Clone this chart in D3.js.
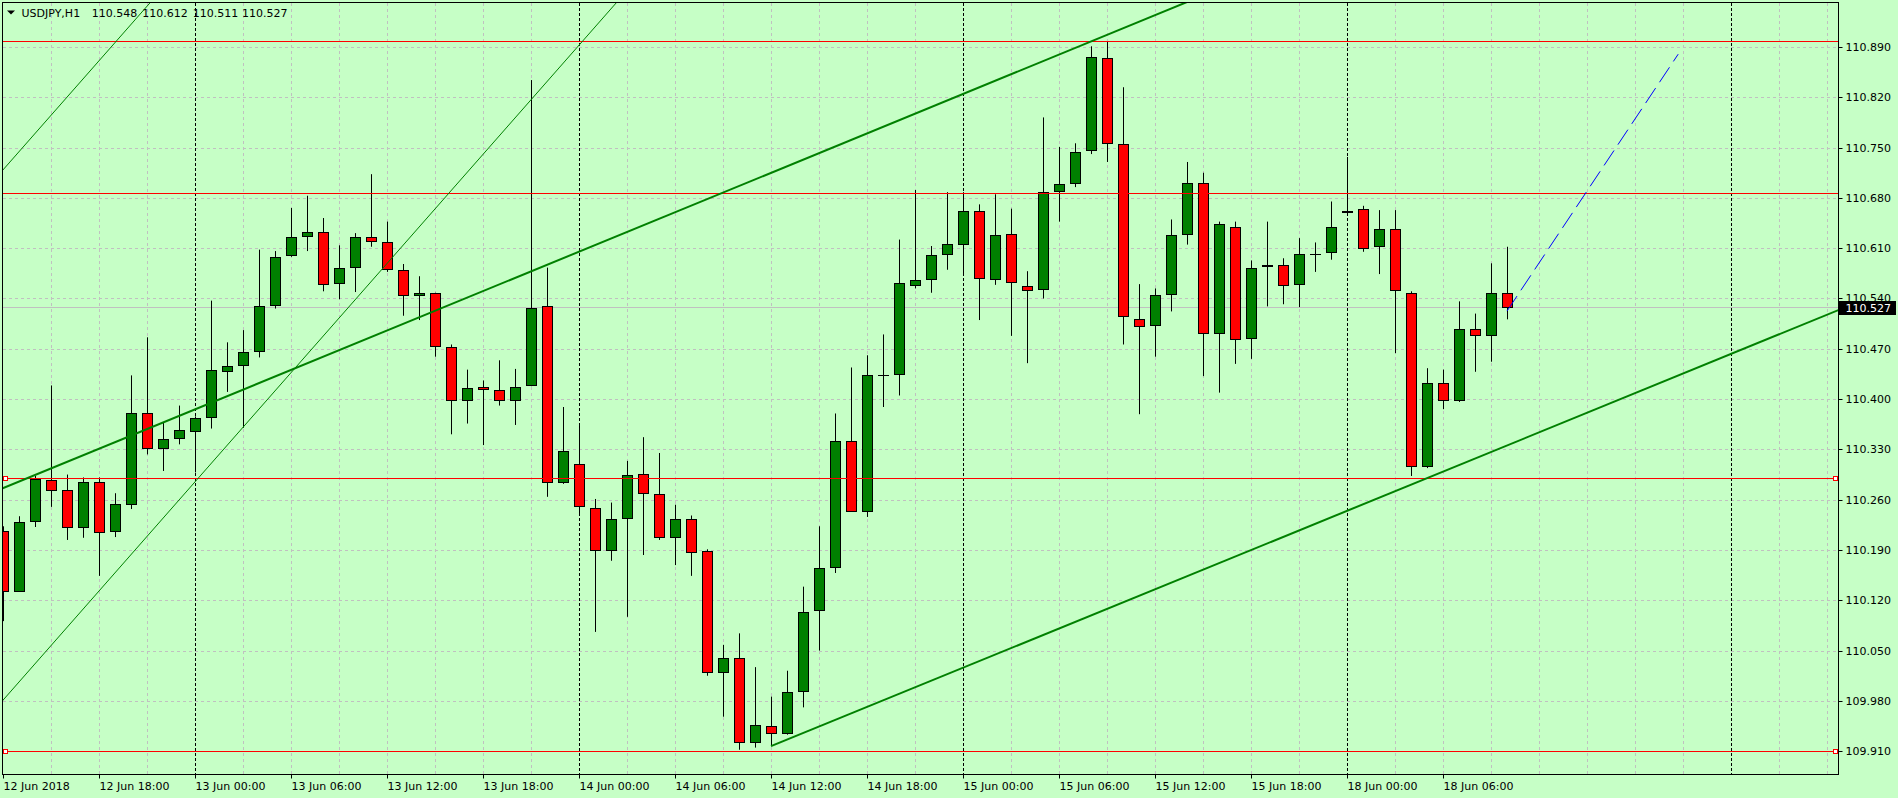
<!DOCTYPE html>
<html><head><meta charset="utf-8">
<script src="https://cdn.jsdelivr.net/npm/d3@7"></script>
<style>
html,body{margin:0;padding:0;background:#c6ffc6;overflow:hidden;}
svg{display:block;}
</style></head><body>
<svg id="chart" width="1898" height="798"></svg>
<script>
// ---------------- data ----------------
const symbolTitle = "USDJPY,H1";
const ohlcTitle = ["110.548", "110.612", "110.511", "110.527"];

// hourly bars, index 0 = 12 Jun 2018 12:00
const opens = [110.217,110.132,110.229,110.288,110.273,110.221,110.284,110.215,110.253,110.381,
  110.330,110.344,110.354,110.374,110.438,110.446,110.466,110.530,110.599,110.626,
  110.633,110.560,110.583,110.625,110.619,110.580,110.543,110.547,110.473,110.397,
  110.417,110.412,110.398,110.418,110.530,110.283,110.309,110.249,110.189,110.233,
  110.296,110.268,110.207,110.233,110.188,110.019,110.040,109.921,109.945,109.934,
  109.993,110.105,110.165,110.342,110.243,110.434,110.433,110.558,110.566,110.601,
  110.614,110.662,110.566,110.630,110.558,110.552,110.688,110.700,110.745,110.874,
  110.755,110.512,110.502,110.545,110.629,110.701,110.490,110.639,110.483,110.585,
  110.587,110.559,110.602,110.604,110.662,110.664,110.612,110.637,110.548,110.305,
  110.423,110.398,110.498,110.488,110.548];
const highs = [110.223,110.237,110.293,110.419,110.295,110.291,110.291,110.269,110.433,110.486,
  110.367,110.391,110.376,110.537,110.479,110.496,110.608,110.606,110.666,110.683,
  110.652,110.614,110.631,110.713,110.647,110.588,110.571,110.548,110.476,110.441,
  110.426,110.454,110.442,110.844,110.583,110.389,110.363,110.261,110.256,110.314,
  110.347,110.325,110.253,110.238,110.191,110.058,110.074,110.027,109.986,110.022,
  110.139,110.223,110.380,110.444,110.461,110.490,110.622,110.691,110.613,110.688,
  110.688,110.671,110.685,110.665,110.578,110.792,110.751,110.756,110.891,110.897,
  110.834,110.560,110.554,110.650,110.730,110.715,110.647,110.647,110.593,110.647,
  110.596,110.624,110.618,110.675,110.737,110.669,110.663,110.663,110.550,110.443,
  110.441,110.536,110.519,110.589,110.612];
const lows = [110.091,110.132,110.222,110.250,110.204,110.207,110.154,110.208,110.247,110.323,
  110.300,110.337,110.298,110.359,110.410,110.360,110.458,110.526,110.598,110.606,
  110.550,110.539,110.549,110.612,110.577,110.516,110.510,110.459,110.351,110.366,
  110.336,110.391,110.364,110.418,110.264,110.282,110.241,110.076,110.175,110.097,
  110.183,110.204,110.169,110.154,110.015,109.958,109.912,109.915,109.917,109.933,
  109.971,110.050,110.158,110.243,110.236,110.389,110.405,110.554,110.548,110.580,
  110.574,110.510,110.559,110.488,110.450,110.540,110.647,110.695,110.741,110.730,
  110.476,110.379,110.459,110.522,110.615,110.432,110.409,110.449,110.456,110.529,
  110.532,110.528,110.577,110.594,110.661,110.605,110.574,110.464,110.293,110.304,
  110.386,110.396,110.438,110.452,110.511];
const closes = [110.132,110.229,110.289,110.272,110.221,110.285,110.214,110.254,110.381,110.330,
  110.344,110.357,110.374,110.440,110.446,110.466,110.530,110.598,110.625,110.633,
  110.559,110.583,110.625,110.618,110.579,110.544,110.547,110.473,110.397,110.416,
  110.412,110.397,110.417,110.527,110.283,110.328,110.250,110.189,110.233,110.295,
  110.268,110.207,110.233,110.186,110.019,110.040,109.921,109.947,109.934,109.993,
  110.104,110.165,110.342,110.243,110.433,110.434,110.562,110.566,110.601,110.616,
  110.662,110.567,110.628,110.561,110.551,110.688,110.700,110.744,110.876,110.755,
  110.514,110.501,110.545,110.629,110.701,110.490,110.644,110.482,110.582,110.587,
  110.558,110.602,110.602,110.640,110.661,110.609,110.637,110.550,110.305,110.423,
  110.398,110.498,110.488,110.548,110.527];

const priceTicks = [110.890,110.820,110.750,110.680,110.610,110.540,110.470,110.400,
  110.330,110.260,110.190,110.120,110.050,109.980,109.910];
const timeTickBars = [0,6,12,18,24,30,36,42,48,54,60,66,72,78,84,90];
const timeLabels = ["12 Jun 2018","12 Jun 18:00","13 Jun 00:00","13 Jun 06:00","13 Jun 12:00",
  "13 Jun 18:00","14 Jun 00:00","14 Jun 06:00","14 Jun 12:00","14 Jun 18:00","15 Jun 00:00",
  "15 Jun 06:00","15 Jun 12:00","15 Jun 18:00","18 Jun 00:00","18 Jun 06:00"];
const separatorBars = [12,36,60,84,108];
const levelPrices = [110.8975,110.686,110.289,109.910];
const levelMarked = [false,false,true,true];
const bidPrice = 110.527;
// trend lines: [bar, price] anchor pairs
const channelUpper = [[0,110.276],[70,110.916]];
const channelLower = [[48,109.917],[110,110.481]];
const thinLineA = [[0,110.719],[10,110.972]];
const thinLineB = [[0,109.981],[36,110.8925]];
const projection = [[94,110.5225],[104.7,110.880]];

// ---------------- drawing ----------------
const svg = d3.select('#chart');
const FONT = "DejaVu Sans";
const plotL = 3, plotR = 1838, plotT = 3, plotB = 774;

const x = d3.scaleLinear().domain([0,100]).range([3,1603]);
const y = d3.scaleLinear().domain([109.910,110.890]).range([751.2,47]);
const yPx = p => Math.round(y(p)) + 0.5;
const xPx = b => Math.round(x(b)) + 0.5;

svg.append('defs').append('clipPath').attr('id','plotClip')
  .append('rect').attr('x',plotL).attr('y',plotT).attr('width',plotR-plotL).attr('height',plotB-plotT);

const grid = svg.append('g').attr('clip-path','url(#plotClip)');
grid.selectAll('line.h').data(priceTicks).join('line').attr('class','h')
  .attr('x1',plotL).attr('x2',plotR).attr('y1',d=>yPx(d)).attr('y2',d=>yPx(d))
  .attr('stroke','#c0c0c0').attr('stroke-dasharray','3,3');
const vGrid = d3.range(3,117,3).filter(b=>!separatorBars.includes(b));
grid.selectAll('line.v').data(vGrid).join('line').attr('class','v')
  .attr('x1',d=>xPx(d)).attr('x2',d=>xPx(d)).attr('y1',plotT).attr('y2',plotB)
  .attr('stroke','#c0c0c0').attr('stroke-dasharray','3,3');
grid.selectAll('line.sep').data(separatorBars).join('line').attr('class','sep')
  .attr('x1',d=>xPx(d)).attr('x2',d=>xPx(d)).attr('y1',plotT).attr('y2',plotB)
  .attr('stroke','#000').attr('stroke-dasharray','3,2');
// bid line
grid.append('line').attr('x1',plotL).attr('x2',plotR)
  .attr('y1',Math.floor(y(bidPrice))+0.5).attr('y2',Math.floor(y(bidPrice))+0.5)
  .attr('stroke','#c0c0c0');

// candles
const bars = opens.map((o,i)=>({i,o,h:highs[i],l:lows[i],c:closes[i]}));
const gC = svg.append('g').attr('clip-path','url(#plotClip)');
gC.selectAll('line.wick').data(bars).join('line').attr('class','wick')
  .attr('x1',d=>xPx(d.i)).attr('x2',d=>xPx(d.i))
  .attr('y1',d=>y(d.h)).attr('y2',d=>y(d.l)).attr('stroke','#000');
gC.selectAll('line.doji').data(bars.filter(d=>d.o===d.c)).join('line').attr('class','doji')
  .attr('x1',d=>xPx(d.i)-5.5).attr('x2',d=>xPx(d.i)+5.5)
  .attr('y1',d=>yPx(d.o)).attr('y2',d=>yPx(d.o)).attr('stroke','#000');
gC.selectAll('rect.body').data(bars.filter(d=>d.o!==d.c)).join('rect').attr('class','body')
  .attr('x',d=>xPx(d.i)-5).attr('width',10)
  .attr('y',d=>Math.round(y(Math.max(d.o,d.c)))+0.5)
  .attr('height',d=>Math.max(1,Math.round(y(Math.min(d.o,d.c)))-Math.round(y(Math.max(d.o,d.c)))-1))
  .attr('fill',d=>d.c>d.o?'#008000':'#ff0000').attr('stroke','#000');

// objects
const gO = svg.append('g').attr('clip-path','url(#plotClip)');
const extend = (pts,b0,b1)=>{
  const [[xa,ya],[xb,yb]] = pts; const k=(yb-ya)/(xb-xa);
  return [[b0,ya+k*(b0-xa)],[b1,ya+k*(b1-xa)]];
};
const line = d3.line().x(d=>x(d[0])).y(d=>y(d[1]));
gO.selectAll('line.lvl').data(levelPrices).join('line').attr('class','lvl')
  .attr('x1',plotL).attr('x2',plotR).attr('y1',d=>Math.floor(y(d))+0.5).attr('y2',d=>Math.floor(y(d))+0.5)
  .attr('stroke','#ff0000');
gO.append('path').attr('d',line(extend(thinLineA,-20,130))).attr('stroke','#008000').attr('fill','none').attr('stroke-width',1);
gO.append('path').attr('d',line(extend(thinLineB,-20,130))).attr('stroke','#008000').attr('fill','none').attr('stroke-width',1);
gO.append('path').attr('d',line(extend(channelUpper,-5,130))).attr('stroke','#008000').attr('fill','none').attr('stroke-width',2);
gO.append('path').attr('d',line(extend(channelLower,48,130))).attr('stroke','#008000').attr('fill','none').attr('stroke-width',2);
gO.append('path').attr('d',line(projection)).attr('stroke','#0000ff').attr('fill','none')
  .attr('stroke-width',1).attr('stroke-dasharray','18,7');
const marks = levelPrices.filter((d,i)=>levelMarked[i]);
gO.selectAll('rect.mkL').data(marks).join('rect').attr('class','mkL')
  .attr('x',3.5).attr('y',d=>Math.floor(y(d))-1.5).attr('width',4).attr('height',4)
  .attr('fill','#fff').attr('stroke','#ff0000');
gO.selectAll('rect.mkR').data(marks).join('rect').attr('class','mkR')
  .attr('x',1833.5).attr('y',d=>Math.floor(y(d))-1.5).attr('width',4).attr('height',4)
  .attr('fill','#fff').attr('stroke','#ff0000');

// frame
svg.append('rect').attr('x',2.5).attr('y',2.5).attr('width',1836).attr('height',772)
  .attr('fill','none').attr('stroke','#000');

// axes
const yAx = y.copy().interpolate(d3.interpolateRound);
const gy = svg.append('g').attr('transform','translate(1838.5,0)')
  .call(d3.axisRight(yAx).tickValues(priceTicks).tickSize(4).tickPadding(3).tickSizeOuter(0)
    .tickFormat(d3.format('.3f')));
gy.select('.domain').remove();
gy.attr('font-family',FONT).attr('font-size',11);
gy.selectAll('text').attr('fill','#000');

const gx = svg.append('g').attr('transform','translate(0,774.5)')
  .call(d3.axisBottom(x).tickValues(timeTickBars).tickSize(4).tickPadding(4).tickSizeOuter(0)
    .tickFormat((d,i)=>timeLabels[i]));
gx.select('.domain').remove();
gx.attr('font-family',FONT).attr('font-size',11);
gx.selectAll('text').attr('text-anchor','start').attr('x',0).attr('fill','#000');

// bid price box
const by = Math.round(y(bidPrice)) - 7;
svg.append('rect').attr('x',1839).attr('y',by).attr('width',57).attr('height',14).attr('fill','#000');
svg.append('text').attr('x',1845.5).attr('y',by+11).attr('fill','#fff')
  .attr('font-family',FONT).attr('font-size',11).text(bidPrice.toFixed(3));

// title
svg.append('path').attr('d','M7,10.5 L15,10.5 L11,14.5 Z').attr('fill','#000');
const tg = svg.append('g').attr('font-family',FONT).attr('font-size',11).attr('fill','#000');
tg.append('text').attr('x',21.5).attr('y',16.5).text(symbolTitle);
const titleX = [91.7,142.3,192.7,242];
tg.selectAll('text.v').data(ohlcTitle).join('text').attr('class','v')
  .attr('x',(d,i)=>titleX[i]).attr('y',16.5).text(d=>d);
</script>
</body></html>
